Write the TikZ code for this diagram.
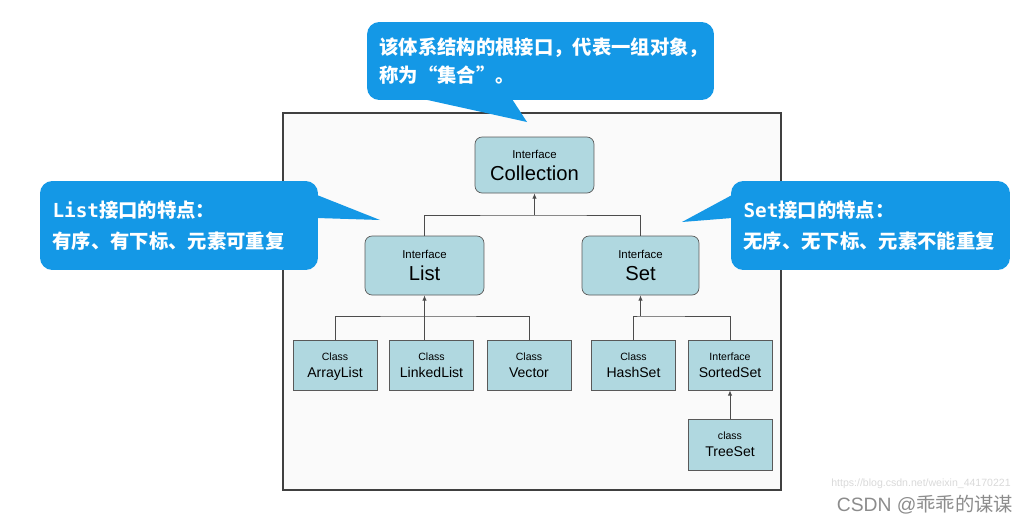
\documentclass[tikz,border=0pt]{standalone}
\usepackage{fontspec}
\setmainfont{Liberation Sans}
\setmonofont{DejaVu Sans Mono}
\newfontfamily\cjk{Noto Sans CJK SC}
\usepackage{xcolor}
\usetikzlibrary{arrows.meta,positioning,calc}
\definecolor{callblue}{RGB}{20,152,230}
\definecolor{boxblue}{RGB}{176,216,224}
\definecolor{framegray}{RGB}{250,250,250}
\newcommand{\cname}[1]{{\fontsize{8}{9.5}\selectfont\vphantom{L}\smash{#1}}}

\begin{document}
\begin{tikzpicture}[x=0.02cm,y=-0.02cm,
  iface/.style={draw=black!65,fill=boxblue,rounded corners=4pt,align=center,inner sep=0pt,font=\fontsize{6.5}{12.5}\selectfont},
  cls/.style={draw=black!65,fill=boxblue,align=center,inner sep=0pt,minimum width=1.68cm,minimum height=1cm,font=\fontsize{6}{9.5}\selectfont},
  note/.style={fill=callblue,text=white,rounded corners=7pt,align=left,inner xsep=0.25cm,inner ysep=0pt,font=\cjk\bfseries\fontsize{11}{15.5}\selectfont},
  line/.style={draw=black!70,line width=0.5pt},
  arrow/.style={line,-{Latex[length=3pt,width=2.5pt]}}]
\useasboundingbox (0,0) rectangle (1028,525);
\draw[draw=black!75,fill=framegray,line width=0.7pt] (283,113) rectangle (781,490);
% interfaces
\node[iface,minimum width=2.38cm,minimum height=1.12cm] (coll) at (534.5,165) {Interface\\{\fontsize{11.5}{13}\selectfont Collection}};
\node[iface,minimum width=2.38cm,minimum height=1.18cm] (list) at (424.5,265.5) {Interface\\{\fontsize{11.5}{13}\selectfont List}};
\node[iface,minimum width=2.34cm,minimum height=1.18cm] (set) at (640.5,265.5) {Interface\\{\fontsize{11.5}{13}\selectfont Set}};
% classes
\node[cls] (arr) at (335,365) {Class\\\cname{ArrayList}};
\node[cls] (linked) at (431.5,365) {Class\\\cname{LinkedList}};
\node[cls] (vec) at (529,365) {Class\\\cname{Vector}};
\node[cls] (hash) at (633.5,365) {Class\\\cname{HashSet}};
\node[cls] (sorted) at (730,365) {Interface\\\cname{SortedSet}};
\node[cls,minimum height=1.02cm] (tree) at (730,444.5) {class\\\cname{TreeSet}};
% links
\coordinate (jc) at (534.5,215); \draw[line] (list.north) |- (jc) -| (set.north); \draw[arrow] (jc) -- (coll.south);
\coordinate (jl) at (424.5,316); \draw[line] (arr.north) |- (jl) -| (vec.north); \draw[arrow] (linked.north -| jl) -- (list.south);
\coordinate (js) at (640.5,316); \draw[line] (hash.north) |- (js) -| (sorted.north); \draw[arrow] (js) -- (set.south);
\draw[arrow] (tree.north) -- (sorted.south);
% callouts
\node[note,minimum width=6.94cm,minimum height=1.56cm,text width=6.44cm] (topnote) at (540.5,61) {该体系结构的根接口，代表一组对象，\\称为“集合”。};
\fill[callblue] (423,99) -- (527,122) -- (512,99) -- cycle;
\node[note,minimum width=5.56cm,minimum height=1.78cm,text width=5.06cm,font=\cjk\bfseries\fontsize{11}{18}\selectfont] (listnote) at (179,225.5) {{\ttfamily\bfseries List}接口的特点：\\有序、有下标、元素可重复};
\fill[callblue] (317,195) -- (380,220) -- (317,218) -- cycle;
\node[note,minimum width=5.58cm,minimum height=1.78cm,text width=5.08cm,font=\cjk\bfseries\fontsize{11}{18}\selectfont] (setnote) at (870.5,225.5) {{\ttfamily\bfseries Set}接口的特点：\\无序、无下标、元素不能重复};
\fill[callblue] (732,195) -- (682,222) -- (732,218) -- cycle;
% watermark
\node[text=black!15,font=\fontsize{6}{7}\selectfont] (url) at (921,484) {https://blog.csdn.net/weixin\_44170221};
\node[text=black!45,font=\fontsize{11}{13}\selectfont] (mark) at (925,505) {CSDN @{\cjk 乖乖的谋谋}};
\end{tikzpicture}
\end{document}
